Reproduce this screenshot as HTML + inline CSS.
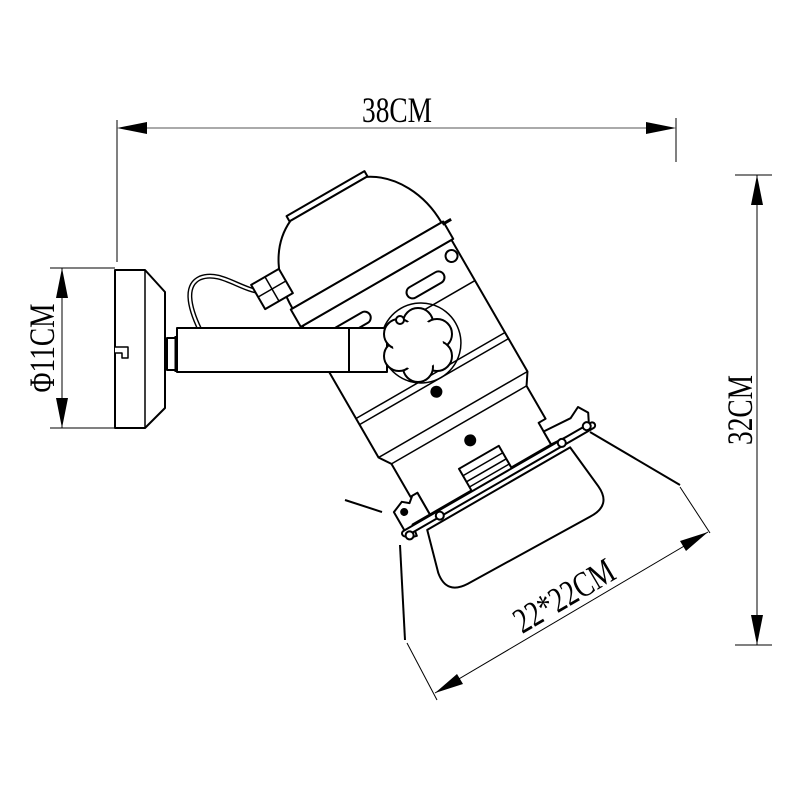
<!DOCTYPE html>
<html><head><meta charset="utf-8"><style>
html,body{margin:0;padding:0;background:#fff;}
svg{display:block}
text{font-family:"Liberation Serif",serif;fill:#000}
</style></head><body>
<svg width="800" height="800" viewBox="0 0 800 800" xmlns="http://www.w3.org/2000/svg">
<g stroke="#000" fill="none">
<line x1="117" y1="120" x2="117" y2="262" stroke-width="1"/>
<line x1="676" y1="118" x2="676" y2="162" stroke-width="1"/>
<line x1="140" y1="128" x2="653" y2="128" stroke="#aaa" stroke-width="2"/>
<path d="M117,128 L147,122 L147,134 Z M676,128 L646,122 L646,134 Z" fill="#000" stroke="none"/>
<line x1="735" y1="175" x2="772" y2="175" stroke-width="1"/>
<line x1="735" y1="645" x2="772" y2="645" stroke-width="1"/>
<line x1="757" y1="175" x2="757" y2="645" stroke-width="1"/>
<path d="M757,175 L751,205 L763,205 Z M757,645 L751,615 L763,615 Z" fill="#000" stroke="none"/>
<line x1="50" y1="268" x2="115" y2="268" stroke-width="1"/>
<line x1="50" y1="428" x2="115" y2="428" stroke-width="1"/>
<line x1="62" y1="268" x2="62" y2="428" stroke-width="1"/>
<path d="M62,268 L56,298 L68,298 Z M62,428 L56,398 L68,398 Z" fill="#000" stroke="none"/>
<line x1="407" y1="643" x2="437" y2="700" stroke-width="1"/>
<line x1="680" y1="487" x2="710" y2="533" stroke-width="1"/>
<line x1="435" y1="693" x2="708" y2="532" stroke-width="1"/>
<path d="M435,693 L457,674 L463,684 Z M708,532 L686,551 L680,541 Z" fill="#000" stroke="none"/>
</g>
<text font-size="36" text-anchor="middle" transform="translate(397,122) scale(0.76,1)">38CM</text>
<text font-size="36" text-anchor="middle" transform="translate(752,410) rotate(-90) scale(0.76,1)">32CM</text>
<text font-size="36" text-anchor="middle" transform="translate(54,348) rotate(-90) scale(0.76,1)">Φ11CM</text>
<text font-size="36" text-anchor="middle" transform="translate(570,606) rotate(-30.5) scale(0.76,1)">22*22CM</text>

<g stroke="#000" stroke-width="2" fill="#fff" stroke-linejoin="round">
<line x1="400" y1="545" x2="405" y2="640"/>
<line x1="345" y1="500" x2="382" y2="512"/>
<line x1="590" y1="432" x2="680" y2="485"/>
<path d="M200,330 C188,305 185,285 200,278 C220,270 240,290 262,292" fill="none" stroke-width="5"/>
<path d="M200,330 C188,305 185,285 200,278 C220,270 240,290 262,292" fill="none" stroke="#fff" stroke-width="2.2"/>
<g transform="translate(328,198) rotate(-30)">
<rect x="-45" y="-5" width="90" height="6"/>
<path d="M-44,1 C-72,14 -86,45 -86,78 L86,78 C86,45 70,14 44,1 Z"/>
<path d="M-86,98 L-86,250 L-78,262 L-78,300 L-70,300 L-70,325 L70,325 L70,300 L78,300 L78,262 L86,250 L86,98 Z"/>
<rect x="-88" y="78" width="176" height="20"/>
<line x1="86" y1="80" x2="96" y2="80" stroke-width="3"/>
<circle cx="78" cy="112" r="6"/>
<rect x="20" y="118" width="42" height="12" rx="6"/>
<rect x="-64" y="116" width="42" height="12" rx="6"/>
<line x1="-86" y1="145" x2="86" y2="145" stroke-width="1.5"/>
<circle cx="8" cy="172" r="40" fill="none" stroke-width="1.5"/>
<line x1="-86" y1="205" x2="86" y2="205" stroke-width="1.5"/>
<line x1="-86" y1="212" x2="86" y2="212" stroke-width="1.5"/>
<line x1="-86" y1="250" x2="86" y2="250" stroke-width="1.5"/>
<line x1="-78" y1="262" x2="78" y2="262" stroke-width="1.5"/>
<circle cx="-3" cy="222" r="5" fill="#000"/>
<circle cx="2" cy="281" r="5" fill="#000"/>
<rect x="-22" y="300" width="46" height="28"/>
<line x1="-22" y1="308" x2="24" y2="308" stroke-width="1.5"/>
<line x1="-22" y1="315" x2="24" y2="315" stroke-width="1.5"/>
<line x1="-22" y1="321" x2="24" y2="321" stroke-width="1.5"/>
<path d="M-100,335 L-100,305 L-88,300 L-82,305 L-76,300 L-70,300 L-70,325 L-90,325 L-92,337 Z"/>
<circle cx="-91" cy="310" r="3" fill="#000"/>
<path d="M70,310 L100,312 L112,306 L118,316 L112,328 L70,325 Z"/>
<path d="M-80,337 L-92,380 Q-96,403 -72,404 L68,407 Q92,408 90,385 L85,337 Z"/>
<rect x="-104" y="326" width="222" height="6" rx="3"/>
<circle cx="-98" cy="333" r="4"/>
<circle cx="-62" cy="331" r="4"/>
<circle cx="80" cy="329" r="4"/>
<circle cx="110" cy="327" r="4"/>
</g>
<path d="M115,270 L145,270 L165,292 L165,408 L145,428 L115,428 Z"/>
<line x1="145" y1="270" x2="145" y2="428" stroke-width="1.5"/>
<path d="M115,347 L128,347 L128,358 L122,358 L122,353 L115,353" stroke-width="1.5"/>
<rect x="167" y="338" width="10" height="32"/>
<line x1="176" y1="336" x2="176" y2="372" stroke-width="3"/>
<rect x="177" y="328" width="210" height="44"/>
<line x1="349" y1="328" x2="349" y2="372"/>
<g transform="translate(272,289) rotate(-30)">
<rect x="-16" y="-14" width="32" height="28"/>
<line x1="-16" y1="0" x2="16" y2="0" stroke-width="1.5"/>
<line x1="0" y1="-14" x2="0" y2="14" stroke-width="1.5"/>
</g>
<g transform="translate(418,345)">
<circle cx="0" cy="-22" r="15"/>
<circle cx="19" cy="-11" r="15"/>
<circle cx="19" cy="11" r="15"/>
<circle cx="0" cy="22" r="15"/>
<circle cx="-19" cy="11" r="15"/>
<circle cx="-19" cy="-11" r="15"/>
<circle cx="0" cy="0" r="25" stroke="none"/>
</g>
<circle cx="400" cy="320" r="4"/>
</g>
</svg>
</body></html>
